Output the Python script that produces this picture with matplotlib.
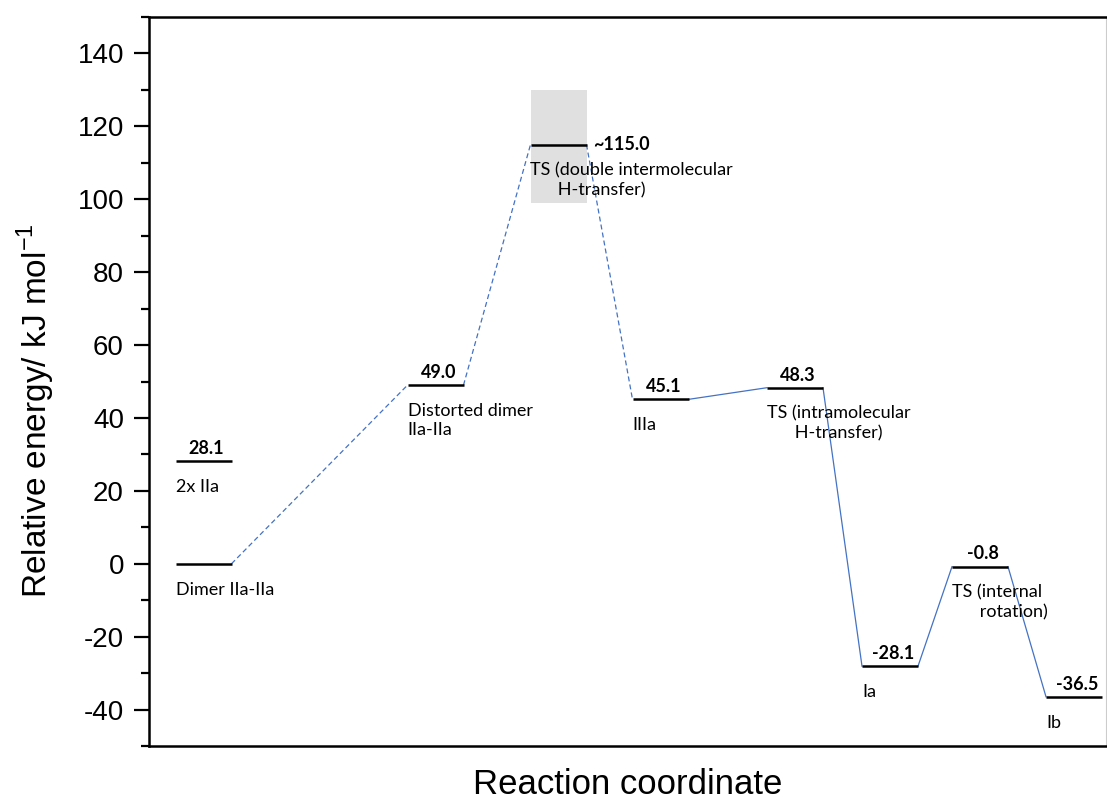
import matplotlib
matplotlib.use("Agg")
import matplotlib.pyplot as plt
from matplotlib.ticker import MultipleLocator

plt.rcParams["axes.unicode_minus"] = False
plt.rcParams["mathtext.fontset"] = "custom"
plt.rcParams["mathtext.rm"] = "Liberation Sans"

# Energy levels along the reaction path (kJ/mol)
states = ["Dimer IIa-IIa", "2x IIa", "Distorted dimer\nIIa-IIa",
          "TS (double intermolecular\n      H-transfer)", "IIIa",
          "TS (intramolecular\n      H-transfer)", "Ia",
          "TS (internal\n      rotation)", "Ib"]
energies = [0.0, 28.1, 49.0, 115.0, 45.1, 48.3, -28.1, -0.8, -36.5]
energy_labels = [None, "28.1", "49.0", "~115.0", "45.1", "48.3", "-28.1", "-0.8", "-36.5"]

# position of each level along the reaction coordinate
x_pos = [0.545, 0.545, 2.865, 4.095, 5.115, 6.46, 7.41, 8.31, 9.25]
level_w = 0.56

# which levels are joined, and whether the link is dashed
links = [(0, 2, "--"), (2, 3, "--"), (3, 4, "--"),
         (4, 5, "-"), (5, 6, "-"), (6, 7, "-"), (7, 8, "-")]

# uncertainty band around the double H-transfer TS
ts_band = (99.0, 130.0)

blue = "#4472C4"

fig = plt.figure(figsize=(11.07, 8.02), dpi=100)
ax = fig.add_axes([149 / 1107, 56 / 802, 957 / 1107, 729 / 802])

# grey band behind the TS level
ax.bar(x_pos[3], ts_band[1] - ts_band[0], bottom=ts_band[0], width=level_w,
       color="#e0e0e0", zorder=1)

for a, b, ls in links:
    ax.plot([x_pos[a] + level_w / 2, x_pos[b] - level_w / 2],
            [energies[a], energies[b]], ls, color=blue, lw=0.9,
            dashes=(4, 2.5) if ls == "--" else (None, None), zorder=2)

ax.hlines(energies, [x - level_w / 2 for x in x_pos], [x + level_w / 2 for x in x_pos],
          color="black", lw=1.8, zorder=3)

label_font = dict(family="Lato", fontsize=13)
for i, (name, e, lab) in enumerate(zip(states, energies, energy_labels)):
    if lab is not None:
        if lab.startswith("~"):
            ax.annotate(lab, (x_pos[i] + level_w / 2, e), xytext=(5, 0),
                        textcoords="offset points", ha="left", va="center",
                        fontweight="bold", **label_font)
        else:
            ax.annotate(lab, (x_pos[i] + 0.03, e), xytext=(0, 3),
                        textcoords="offset points", ha="center", va="bottom",
                        fontweight="bold", **label_font)
    ax.annotate(name, (x_pos[i] - level_w / 2, e), xytext=(0, -13),
                textcoords="offset points", ha="left", va="top",
                linespacing=1.25, **label_font)

ax.set_xlim(0, 9.57)
ax.set_ylim(-50, 150)
ax.yaxis.set_major_locator(MultipleLocator(20))
ax.yaxis.set_minor_locator(MultipleLocator(10))
ax.set_yticks(range(-40, 141, 20))
ax.set_xticks([])
ax.tick_params(axis="y", which="major", direction="out", length=11, width=1.6,
               pad=7, labelsize=20)
ax.tick_params(axis="y", which="minor", direction="out", length=6, width=1.6)
for lab in ax.get_yticklabels():
    lab.set_family("Liberation Sans")

for side in ["left", "top", "bottom"]:
    ax.spines[side].set_linewidth(1.8)
ax.spines["right"].set_color("#cccccc")
ax.spines["right"].set_linewidth(0.8)

ax.set_ylabel("Relative energy/ kJ mol$^{-1}$", family="Liberation Sans",
              fontsize=24)
ax.yaxis.set_label_coords(-0.096, 0.46)
ax.set_xlabel("Reaction coordinate", family="Liberation Sans", fontsize=25,
              labelpad=16)

fig.savefig("out.png", dpi=100)
